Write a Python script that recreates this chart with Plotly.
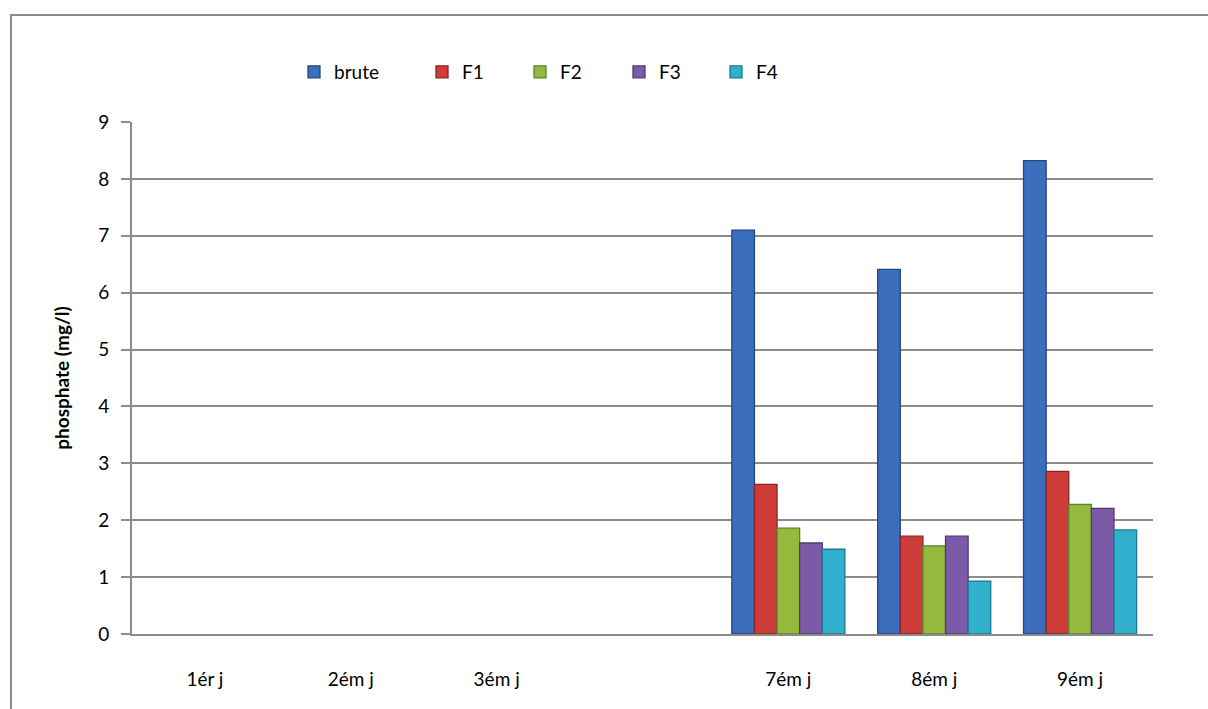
import plotly.graph_objects as go

# Sampling days (one empty slot between day 3 and day 7)
days = ["1ér j", "2ém j", "3ém j", " ", "7ém j", "8ém j", "9ém j"]

# Phosphate concentration (mg/l) per sample
brute = [None, None, None, None, 7.10, 6.41, 8.32]
f1 = [None, None, None, None, 2.63, 1.72, 2.86]
f2 = [None, None, None, None, 1.86, 1.55, 2.28]
f3 = [None, None, None, None, 1.60, 1.72, 2.21]
f4 = [None, None, None, None, 1.49, 0.93, 1.83]

series_names = ["brute", "F1", "F2", "F3", "F4"]
series_values = [brute, f1, f2, f3, f4]
fill_colors = ["#3b6fbe", "#cd3c38", "#95b93c", "#7b5ba8", "#30b0cc"]
edge_colors = ["#23477f", "#8a2422", "#62802a", "#503a72", "#1e7a8e"]

W, H = 1208, 709
ML, MR, MT, MB = 132, 55, 122, 75
plot_w = W - ML - MR
plot_h = H - MT - MB

def px_to_paper_x(px):
    return (px - ML) / plot_w

def px_to_paper_y(py):
    return (H - MB - py) / plot_h

# Legend entry positions (one small legend per series)
legend_px = [294, 422, 520, 619, 716]

fig = go.Figure()
for i, (name, vals) in enumerate(zip(series_names, series_values)):
    lg = "legend" if i == 0 else f"legend{i + 1}"
    fig.add_trace(go.Bar(
        x=days, y=vals, name=name,
        marker=dict(color=fill_colors[i], line=dict(color=edge_colors[i], width=1.3)),
        legend=lg,
    ))

font_family = "Lato, 'Open Sans', sans-serif"
layout_legends = {}
for i in range(len(series_names)):
    key = "legend" if i == 0 else f"legend{i + 1}"
    layout_legends[key] = dict(
        x=px_to_paper_x(legend_px[i]), xanchor="left",
        y=px_to_paper_y(72), yanchor="middle",
        orientation="h", bgcolor="rgba(0,0,0,0)", borderwidth=0,
        font=dict(family=font_family, size=19, color="#000000"),
    )

fig.update_layout(
    width=W, height=H,
    margin=dict(l=ML, r=MR, t=MT, b=MB),
    paper_bgcolor="white", plot_bgcolor="white",
    barmode="group", bargap=0.225, bargroupgap=0,
    font=dict(family=font_family, size=19, color="#000000"),
    showlegend=True,
    **layout_legends,
    xaxis=dict(
        type="category", categoryorder="array", categoryarray=days,
        showline=True, linecolor="#8c8c8c", linewidth=2,
        ticks="", showgrid=False, ticklabelstandoff=27,
        tickfont=dict(family=font_family, size=19),
        range=[-0.5, len(days) - 0.5],
    ),
    yaxis=dict(
        range=[0, 9], dtick=1, tick0=0,
        showline=True, linecolor="#8c8c8c", linewidth=2,
        ticks="outside", ticklen=9, tickcolor="#8c8c8c", tickwidth=2,
        showgrid=True, gridcolor="#8c8c8c", gridwidth=2,
        zeroline=False, ticklabelstandoff=8,
        tickfont=dict(family=font_family, size=19),
        title=dict(text="<b>phosphate (mg/l)</b>", standoff=24,
                   font=dict(family=font_family, size=19)),
    ),
    shapes=[dict(
        type="rect", xref="paper", yref="paper",
        x0=px_to_paper_x(11), x1=px_to_paper_x(1260),
        y0=px_to_paper_y(760), y1=px_to_paper_y(15),
        line=dict(color="#8c8c8c", width=2), fillcolor="rgba(0,0,0,0)",
        layer="below",
    )],
)

fig.write_html("out.html")
